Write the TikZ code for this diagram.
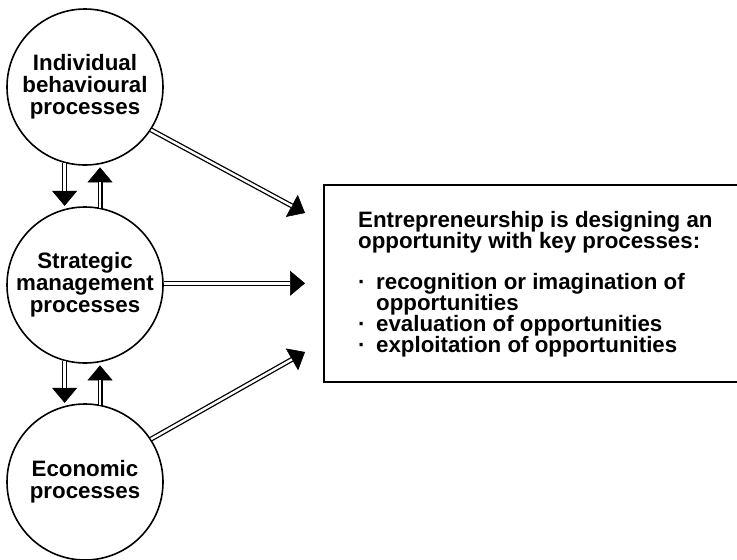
\documentclass[tikz,border=0pt]{standalone}
\usepackage{fontspec}
\setmainfont{Liberation Sans}
\usetikzlibrary{arrows.meta}
\tikzset{
  proc/.style={circle, draw, line width=1.6pt, minimum size=156pt, inner sep=0pt,
    align=center, font=\fontsize{22.3}{22}\selectfont\bfseries},
  headpath/.style={-{Triangle[width=25pt,length=15pt]}, line width=0.6pt},
  shaftline/.style={double=white, double distance=2.4pt, line width=1.3pt},
  txtline/.style={anchor=base west, inner sep=0pt, font=\fontsize{22.3}{21}\selectfont\bfseries},
}
\newcommand\dblarr[3]{%
  \draw[headpath, shorten >=#3] #1 -- #2;
  \draw[shaftline, shorten >=\dimexpr #3+15pt\relax] #1 -- #2;}
\begin{document}
\begin{tikzpicture}[x=1pt, y=-1pt]
\useasboundingbox (0,0) rectangle (737,560);
\clip (0,0) rectangle (737,560);
\node[proc] (c1) at (85,87) {Individual\\behavioural\\processes};
\node[proc] (c2) at (85,285) {Strategic\\management\\processes};
\node[proc] (c3) at (85,482) {Economic\\processes};
\node[draw, line width=1.6pt, anchor=north west, minimum width=430pt, minimum height=197pt, inner sep=0pt] (box) at (323,184) {};
\coordinate (t1) at (305,213);
\coordinate (t3) at (305,352);
% vertical arrows
\dblarr{(c1.255)}{(c2.105)}{3pt}
\dblarr{(c2.79)}{(c1.281)}{3pt}
\dblarr{(c2.255)}{(c3.105)}{3pt}
\dblarr{(c3.79)}{(c2.281)}{3pt}
% arrows to box
\dblarr{(c1.-33)}{(t1)}{0pt}
\dblarr{(c2.east |- box.west)}{(box.west)}{18pt}
\dblarr{(c3.33)}{(t3)}{0pt}
% box text
\node[txtline] (l1) at (358,227.7) {Entrepreneurship is designing an};
\node[txtline] (l2) at (358,248.7) {opportunity with key processes:};
\node[txtline] (l3) at (358,289.7) {\makebox[18pt][l]{·}recognition or imagination of};
\node[txtline] (l4) at (376,310.7) {opportunities};
\node[txtline] (l5) at (358,331.7) {\makebox[18pt][l]{·}evaluation of opportunities};
\node[txtline] (l6) at (358,352.7) {\makebox[18pt][l]{·}exploitation of opportunities};
\end{tikzpicture}
\end{document}
